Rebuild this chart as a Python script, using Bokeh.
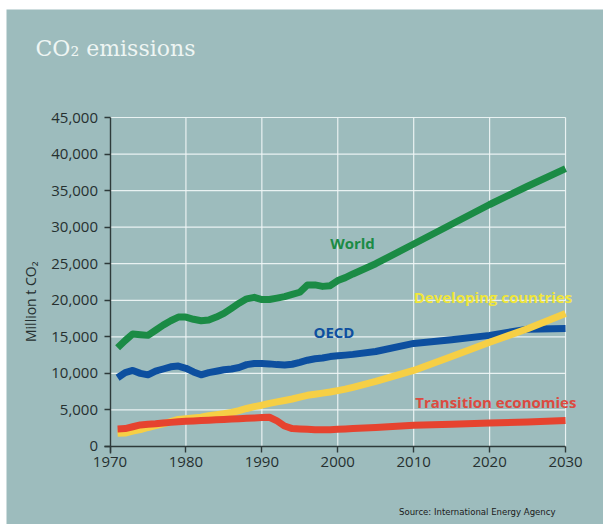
from bokeh.plotting import figure
from bokeh.models import Range1d, FixedTicker, NumeralTickFormatter, Label
from bokeh.embed import file_html
from bokeh.resources import INLINE

# ---- data (million t CO2) ----
years = [1971, 1972, 1973, 1974, 1975, 1976, 1977, 1978, 1979, 1980,
         1981, 1982, 1983, 1984, 1985, 1986, 1987, 1988, 1989, 1990,
         1991, 1992, 1993, 1994, 1995, 1996, 1997, 1998, 1999, 2000,
         2001, 2002, 2005, 2010, 2015, 2020, 2025, 2030]

world = [13500, 14500, 15400, 15300, 15200, 15900, 16600, 17200, 17700, 17700,
         17400, 17200, 17300, 17700, 18200, 18900, 19600, 20200, 20400, 20100,
         20100, 20300, 20500, 20800, 21100, 22100, 22100, 21900, 22000, 22700,
         23100, 23600, 25000, 27700, 30400, 33100, 35600, 38000]

oecd = [9400, 10100, 10400, 10000, 9800, 10300, 10600, 10900, 11000, 10700,
        10200, 9800, 10100, 10300, 10500, 10600, 10800, 11200, 11350, 11350,
        11300, 11200, 11150, 11250, 11500, 11800, 12000, 12100, 12300, 12400,
        12500, 12600, 13000, 14100, 14600, 15200, 16050, 16150]

developing = [1800, 1850, 2100, 2300, 2600, 2850, 3100, 3400, 3700, 3800,
              3900, 4000, 4200, 4350, 4500, 4650, 4900, 5200, 5450, 5650,
              5900, 6100, 6300, 6500, 6750, 7000, 7150, 7300, 7450, 7650,
              7850, 8100, 8900, 10400, 12300, 14250, 16100, 18200]

transition = [2400, 2450, 2700, 2950, 3050, 3100, 3200, 3300, 3400, 3450,
              3500, 3550, 3600, 3650, 3700, 3750, 3800, 3850, 3900, 3950,
              4000, 3500, 2800, 2450, 2400, 2350, 2300, 2300, 2300, 2350,
              2400, 2450, 2600, 2900, 3050, 3200, 3350, 3550]

series_names = ["World", "OECD", "Developing countries", "Transition economies"]
x_ticks = [1970, 1980, 1990, 2000, 2010, 2020, 2030]
y_ticks = [0, 5000, 10000, 15000, 20000, 25000, 30000, 35000, 40000, 45000]

# ---- styling ----
BG = "#9dbcbd"
GRID = "#f2f7f7"
TXT = "#263030"
line_colors = ["#1b8b45", "#0d4f9f", "#f6cf45", "#e6432f"]
label_colors = ["#1b8b45", "#0d4f9f", "#f0e63a", "#dc4a40"]
label_pos = [(1999.0, 27900), (1996.8, 15600), (2010.0, 20500), (2010.2, 6150)]

x_lo, x_hi = x_ticks[0], x_ticks[-1]
y_lo, y_hi = y_ticks[0], y_ticks[-1]

W, H = 597, 515
# plot frame spans the whole canvas; axes are pinned at 1970 / 0
p = figure(width=W, height=H, output_backend="svg", toolbar_location=None,
           x_range=Range1d(1956.367, 2035.0), y_range=Range1d(-10669, 59773),
           min_border_left=0, min_border_right=0,
           min_border_top=0, min_border_bottom=0,
           margin=(9, 0, 0, 6))

p.background_fill_color = BG
p.border_fill_color = BG
p.outline_line_color = None
p.xgrid.visible = False
p.ygrid.visible = False

# grid only over the data area (1970-2030, 0-45,000)
hy = y_ticks[1:]
p.segment(x0=[x_lo] * len(hy), x1=[x_hi] * len(hy), y0=hy, y1=hy,
          line_color=GRID, line_width=1.2, line_alpha=0.9)
vx = x_ticks[1:]
p.segment(x0=vx, x1=vx, y0=[y_lo] * len(vx), y1=[y_hi] * len(vx),
          line_color=GRID, line_width=1.2, line_alpha=0.9)

for vals, col in zip([world, oecd, developing, transition], line_colors):
    p.line(years, vals, line_color=col, line_width=7, line_join="round", line_cap="butt")

# axes
axc = "#2e3a3a"
for ax in (p.xaxis, p.yaxis):
    ax.axis_line_color = axc
    ax.axis_line_width = 1.4
    ax.major_tick_line_color = axc
    ax.major_tick_line_width = 1.4
    ax.major_tick_out = 6
    ax.major_tick_in = 0
    ax.minor_tick_line_color = None
    ax.major_label_text_font = "Open Sans"
    ax.major_label_text_font_size = "15px"
    ax.major_label_text_color = TXT

p.xaxis.fixed_location = y_lo
p.yaxis.fixed_location = x_lo
p.xaxis.ticker = FixedTicker(ticks=x_ticks)
p.yaxis.ticker = FixedTicker(ticks=y_ticks)
p.xaxis.bounds = (x_lo - 0.7, x_hi)
p.yaxis.bounds = (y_lo - 950, y_hi)
p.yaxis.formatter = NumeralTickFormatter(format="0,0")
p.xaxis.major_label_standoff = 5
p.yaxis.major_label_standoff = 6

# y-axis title
p.add_layout(Label(x=1959.5, y=19800, text="Million t CO\u2082", angle=90, angle_units="deg",
                   text_font="Open Sans", text_font_size="14px", text_color=TXT,
                   text_align="center", text_baseline="middle"))

# series labels
for name, (lx, ly), col in zip(series_names, label_pos, label_colors):
    p.add_layout(Label(x=lx, y=ly, text=name, text_color=col,
                       text_font="Open Sans", text_font_size="15px",
                       text_font_style="bold", text_baseline="middle",
                       text_align="left"))

# chart title
p.add_layout(Label(x=1960.19, y=54440, text="CO\u2082 emissions",
                   text_font="DejaVu Serif", text_font_size="22px",
                   text_color="#eef5f3", text_align="left",
                   text_baseline="alphabetic"))

# source note
p.add_layout(Label(x=2028.68, y=-8890, text="Source: International Energy Agency",
                   text_font="Liberation Sans Narrow, DejaVu Sans Condensed, sans-serif",
                   text_font_size="9.5px", text_color="#1a1a1a",
                   text_align="right", text_baseline="alphabetic"))

open("out.html", "w").write(file_html(p, INLINE))
